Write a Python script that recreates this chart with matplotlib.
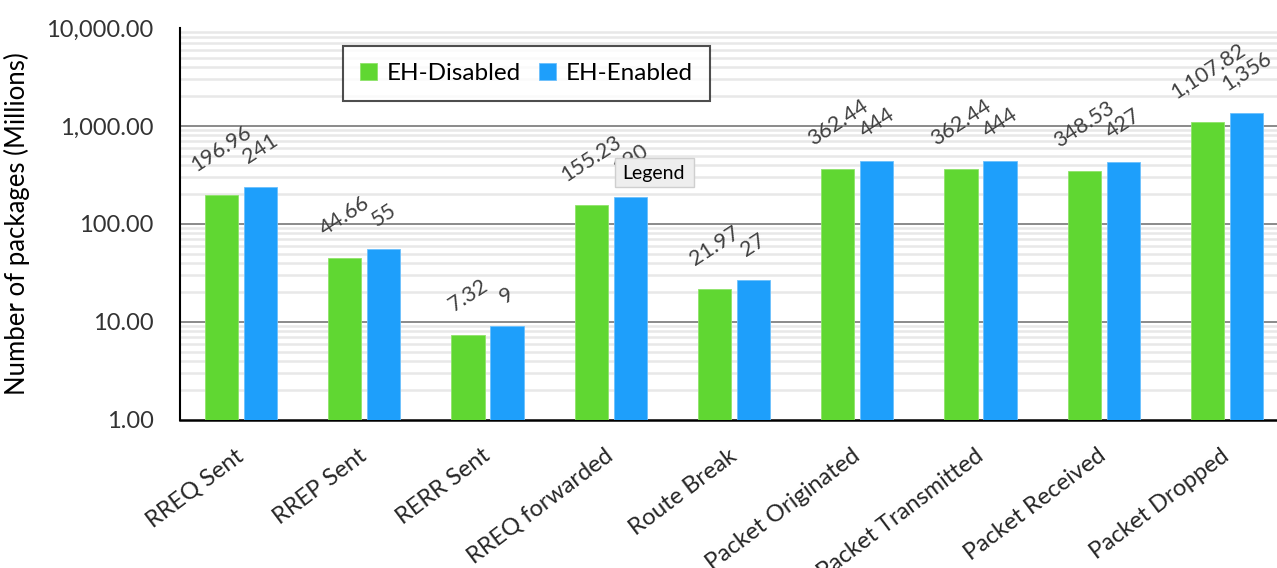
import numpy as np
import matplotlib
matplotlib.use("Agg")
import matplotlib.pyplot as plt
from matplotlib.ticker import FixedLocator, FuncFormatter, LogLocator, NullFormatter
from matplotlib.patches import FancyBboxPatch


categories = ["RREQ Sent", "RREP Sent", "RERR Sent", "RREQ forwarded", "Route Break",
              "Packet Originated", "Packet Transmitted", "Packet Received", "Packet Dropped"]
eh_disabled = [196.96, 44.66, 7.32, 155.23, 21.97, 362.44, 362.44, 348.53, 1107.82]
eh_enabled = [241, 55, 9, 190, 27, 444, 444, 427, 1356]
series_names = ["EH-Disabled", "EH-Enabled"]

clr_green = "#60d732"
clr_blue = "#1e9ffb"

plt.rcParams['font.family'] = ['Lato', 'DejaVu Sans']

fig = plt.figure(figsize=(12.77, 5.68), dpi=100)
ax = fig.add_axes([180/1277, 148/568, 1097/1277, 392/568])

x = np.arange(len(categories))
bw = 0.27
off = 0.158
ax.bar(x - off, eh_disabled, bw, color=clr_green, edgecolor="#8fe46a", linewidth=0.6, label=series_names[0], zorder=3)
ax.bar(x + off, eh_enabled, bw, color=clr_blue, edgecolor="#6cc0fc", linewidth=0.6, label=series_names[1], zorder=3)

ax.set_yscale("log")
ax.set_ylim(1, 10000)
ax.set_xlim(-0.495, len(categories) - 1 + 0.405)

ax.yaxis.set_major_locator(FixedLocator([1, 10, 100, 1000, 10000]))
ax.yaxis.set_major_formatter(FuncFormatter(lambda v, p: "{:,.2f}".format(v)))
ax.yaxis.set_minor_locator(LogLocator(base=10, subs=np.arange(2, 10)))
ax.yaxis.set_minor_formatter(NullFormatter())
ax.tick_params(axis="y", which="both", length=0, pad=19, labelsize=17, labelcolor="#333333")
ax.tick_params(axis="x", length=0)

for yv in [10, 100, 1000]:
    ax.axhline(yv, color="#8a8a8a", lw=1.4, zorder=1)
ax.grid(True, axis="y", which="minor", color="#e8e8e8", lw=1.8, zorder=0)

ax.spines["top"].set_visible(False)
ax.spines["right"].set_visible(False)
ax.spines["left"].set_linewidth(1.5)
ax.spines["bottom"].set_linewidth(1.8)

ax.set_xticks(x)
ax.set_xticklabels([])
for i, c in enumerate(categories):
    ax.annotate(c, xy=(i, 0), xycoords=("data", "axes fraction"), xytext=(0, -24),
                textcoords="offset points", rotation=37, rotation_mode="anchor",
                ha="right", va="center", fontsize=17, color="#262626")

ax.set_ylabel("Number of packages (Millions)", fontsize=18.5, color="black", labelpad=12)

for i in range(len(categories)):
    ax.annotate("{:,.2f}".format(eh_disabled[i]), xy=(x[i] - off, eh_disabled[i]), xytext=(0, 14),
                textcoords="offset points", rotation=33, ha="center", va="bottom",
                fontsize=15.5, color="#404040", zorder=4)
    ax.annotate("{:,.0f}".format(eh_enabled[i]), xy=(x[i] + off, eh_enabled[i]), xytext=(0, 14),
                textcoords="offset points", rotation=33, ha="center", va="bottom",
                fontsize=15.5, color="#404040", zorder=4)

leg = ax.legend(loc="upper left", bbox_to_anchor=(163/1097, 1 - 18/392), ncol=2, fontsize=17.5,
                frameon=True, fancybox=False, handlelength=0.7, handleheight=0.7,
                handletextpad=0.4, columnspacing=0.75, borderpad=0.7, borderaxespad=0)
leg.get_frame().set_edgecolor("#222222")
leg.get_frame().set_linewidth(1.5)

# tooltip left in the screenshot
tip = FancyBboxPatch((615/1277, 1 - 187/568), 79/1277, 29/568, boxstyle="square,pad=0",
                     transform=fig.transFigure, facecolor="#eeeeee", edgecolor="#cfcfcf", lw=1, zorder=10)
fig.patches.append(tip)
fig.text(654/1277, 1 - 173/568, "Legend", ha="center", va="center", fontsize=14, color="black", zorder=11)

plt.savefig("out.png", dpi=100)
